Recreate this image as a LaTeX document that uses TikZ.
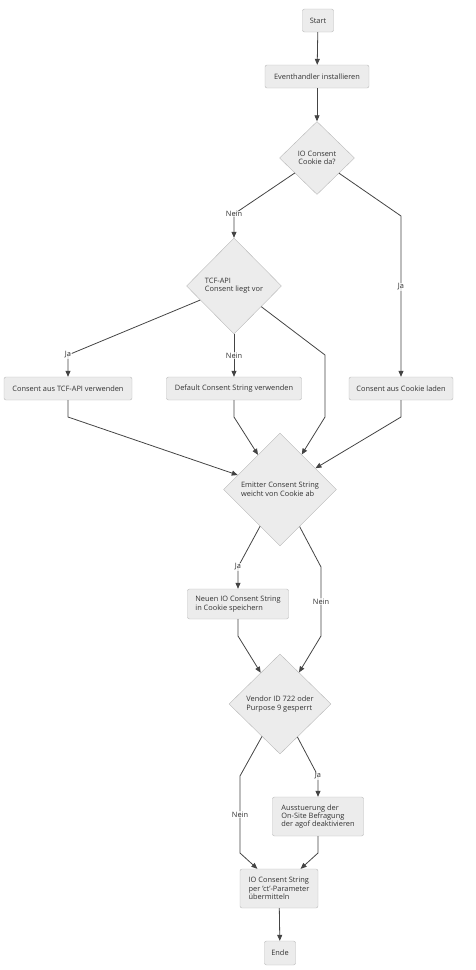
\documentclass[tikz,border=0pt]{standalone}
\usepackage{fontspec}
\setmainfont{Open Sans}
\usepackage{xcolor}
\usetikzlibrary{shapes,arrows.meta,positioning}

\definecolor{boxfill}{HTML}{ECECEC}
\definecolor{boxline}{HTML}{B8B8B8}
\definecolor{flowline}{HTML}{444444}
\definecolor{textgrey}{HTML}{333333}

\begin{document}
\begin{tikzpicture}[x=1pt, y=-1pt,
    font=\fontsize{7.4}{8.4}\selectfont, text=textgrey,
    process/.style={rectangle, rounded corners=2pt, draw=boxline, fill=boxfill, inner sep=0pt, minimum height=23pt},
    decision/.style={diamond, draw=boxline, fill=boxfill, inner sep=0pt, aspect=1},
    answer/.style={fill=white, fill opacity=0.75, text opacity=1, inner sep=0.5pt},
    flow/.style={draw=flowline, line width=0.8pt, -{Triangle[length=6pt,width=5pt]}}]
    \useasboundingbox (0,0) rectangle (476,970);

    \node[process, minimum width=31pt] (start) at (318,20.5) {Start};
    \node[process, minimum width=104pt] (handler) at (317,76.5) {Eventhandler installieren};
    \node[decision, minimum width=75pt, minimum height=73pt, align=center] (cookie) at (317,158) {IO Consent\\Cookie da?};
    \node[decision, minimum width=95pt, minimum height=96pt, align=left] (tcf) at (234,286) {TCF-API\\Consent liegt vor};
    \node[process, minimum width=128pt] (tcfuse) at (68,388.5) {Consent aus TCF-API verwenden};
    \node[process, minimum width=135pt] (default) at (234,388.5) {Default Consent String verwenden};
    \node[process, minimum width=104pt] (load) at (401,388.5) {Consent aus Cookie laden};
    \node[decision, minimum width=113pt, minimum height=113pt, align=left] (emitter) at (280,489.5) {Emitter Consent String\\weicht von Cookie ab};
    \node[process, minimum width=101pt, minimum height=30pt, align=left] (save) at (238,604) {Neuen IO Consent String\\in Cookie speichern};
    \node[decision, minimum width=102pt, minimum height=100pt, align=left] (vendor) at (280,704) {Vendor ID 722 oder\\Purpose 9 gesperrt};
    \node[process, minimum width=91pt, minimum height=39pt, align=left] (agof) at (318,816.5) {Ausstuerung der\\On-Site Befragung\\der agof deaktivieren};
    \node[process, minimum width=78pt, minimum height=39pt, align=left] (transmit) at (279,888.5) {IO Consent String\\per 'ct'-Parameter\\übermitteln};
    \node[process, minimum width=31pt, minimum height=24pt] (ende) at (280,953) {Ende};

    \draw[flow] (start) -- (handler);
    \draw[flow] (handler) -- (cookie);
    \draw[flow] (cookie) -- (234,214) node[answer] {Nein} -- (tcf);
    \draw[flow] (cookie) -- (401,216) -- node[answer, pos=0.44] {Ja} (load);
    \draw[flow] (tcf) -- (68,355) node[answer] {Ja} -- (tcfuse);
    \draw[flow] (tcf) -- node[answer] {Nein} (default);
    \draw[flow] (tcf) -- (325,355) -- (325,417) -- (emitter);
    \draw[flow] (tcfuse) -- (68,417) -- (emitter);
    \draw[flow] (default) -- (234,417) -- (emitter);
    \draw[flow] (load) -- (401,417) -- (emitter);
    \draw[flow] (emitter) -- (238,567) node[answer] {Ja} -- (save);
    \draw[flow] (emitter) -- (321,567) -- node[answer] {Nein} (321,636) -- (vendor);
    \draw[flow] (save) -- (238,636) -- (vendor);
    \draw[flow] (vendor) -- (318,776) node[answer] {Ja} -- (agof);
    \draw[flow] (vendor) -- (240,776) -- node[answer] {Nein} (240,853) -- (transmit);
    \draw[flow] (agof) -- (318,853) -- (transmit);
    \draw[flow] (transmit) -- (ende);
\end{tikzpicture}
\end{document}
